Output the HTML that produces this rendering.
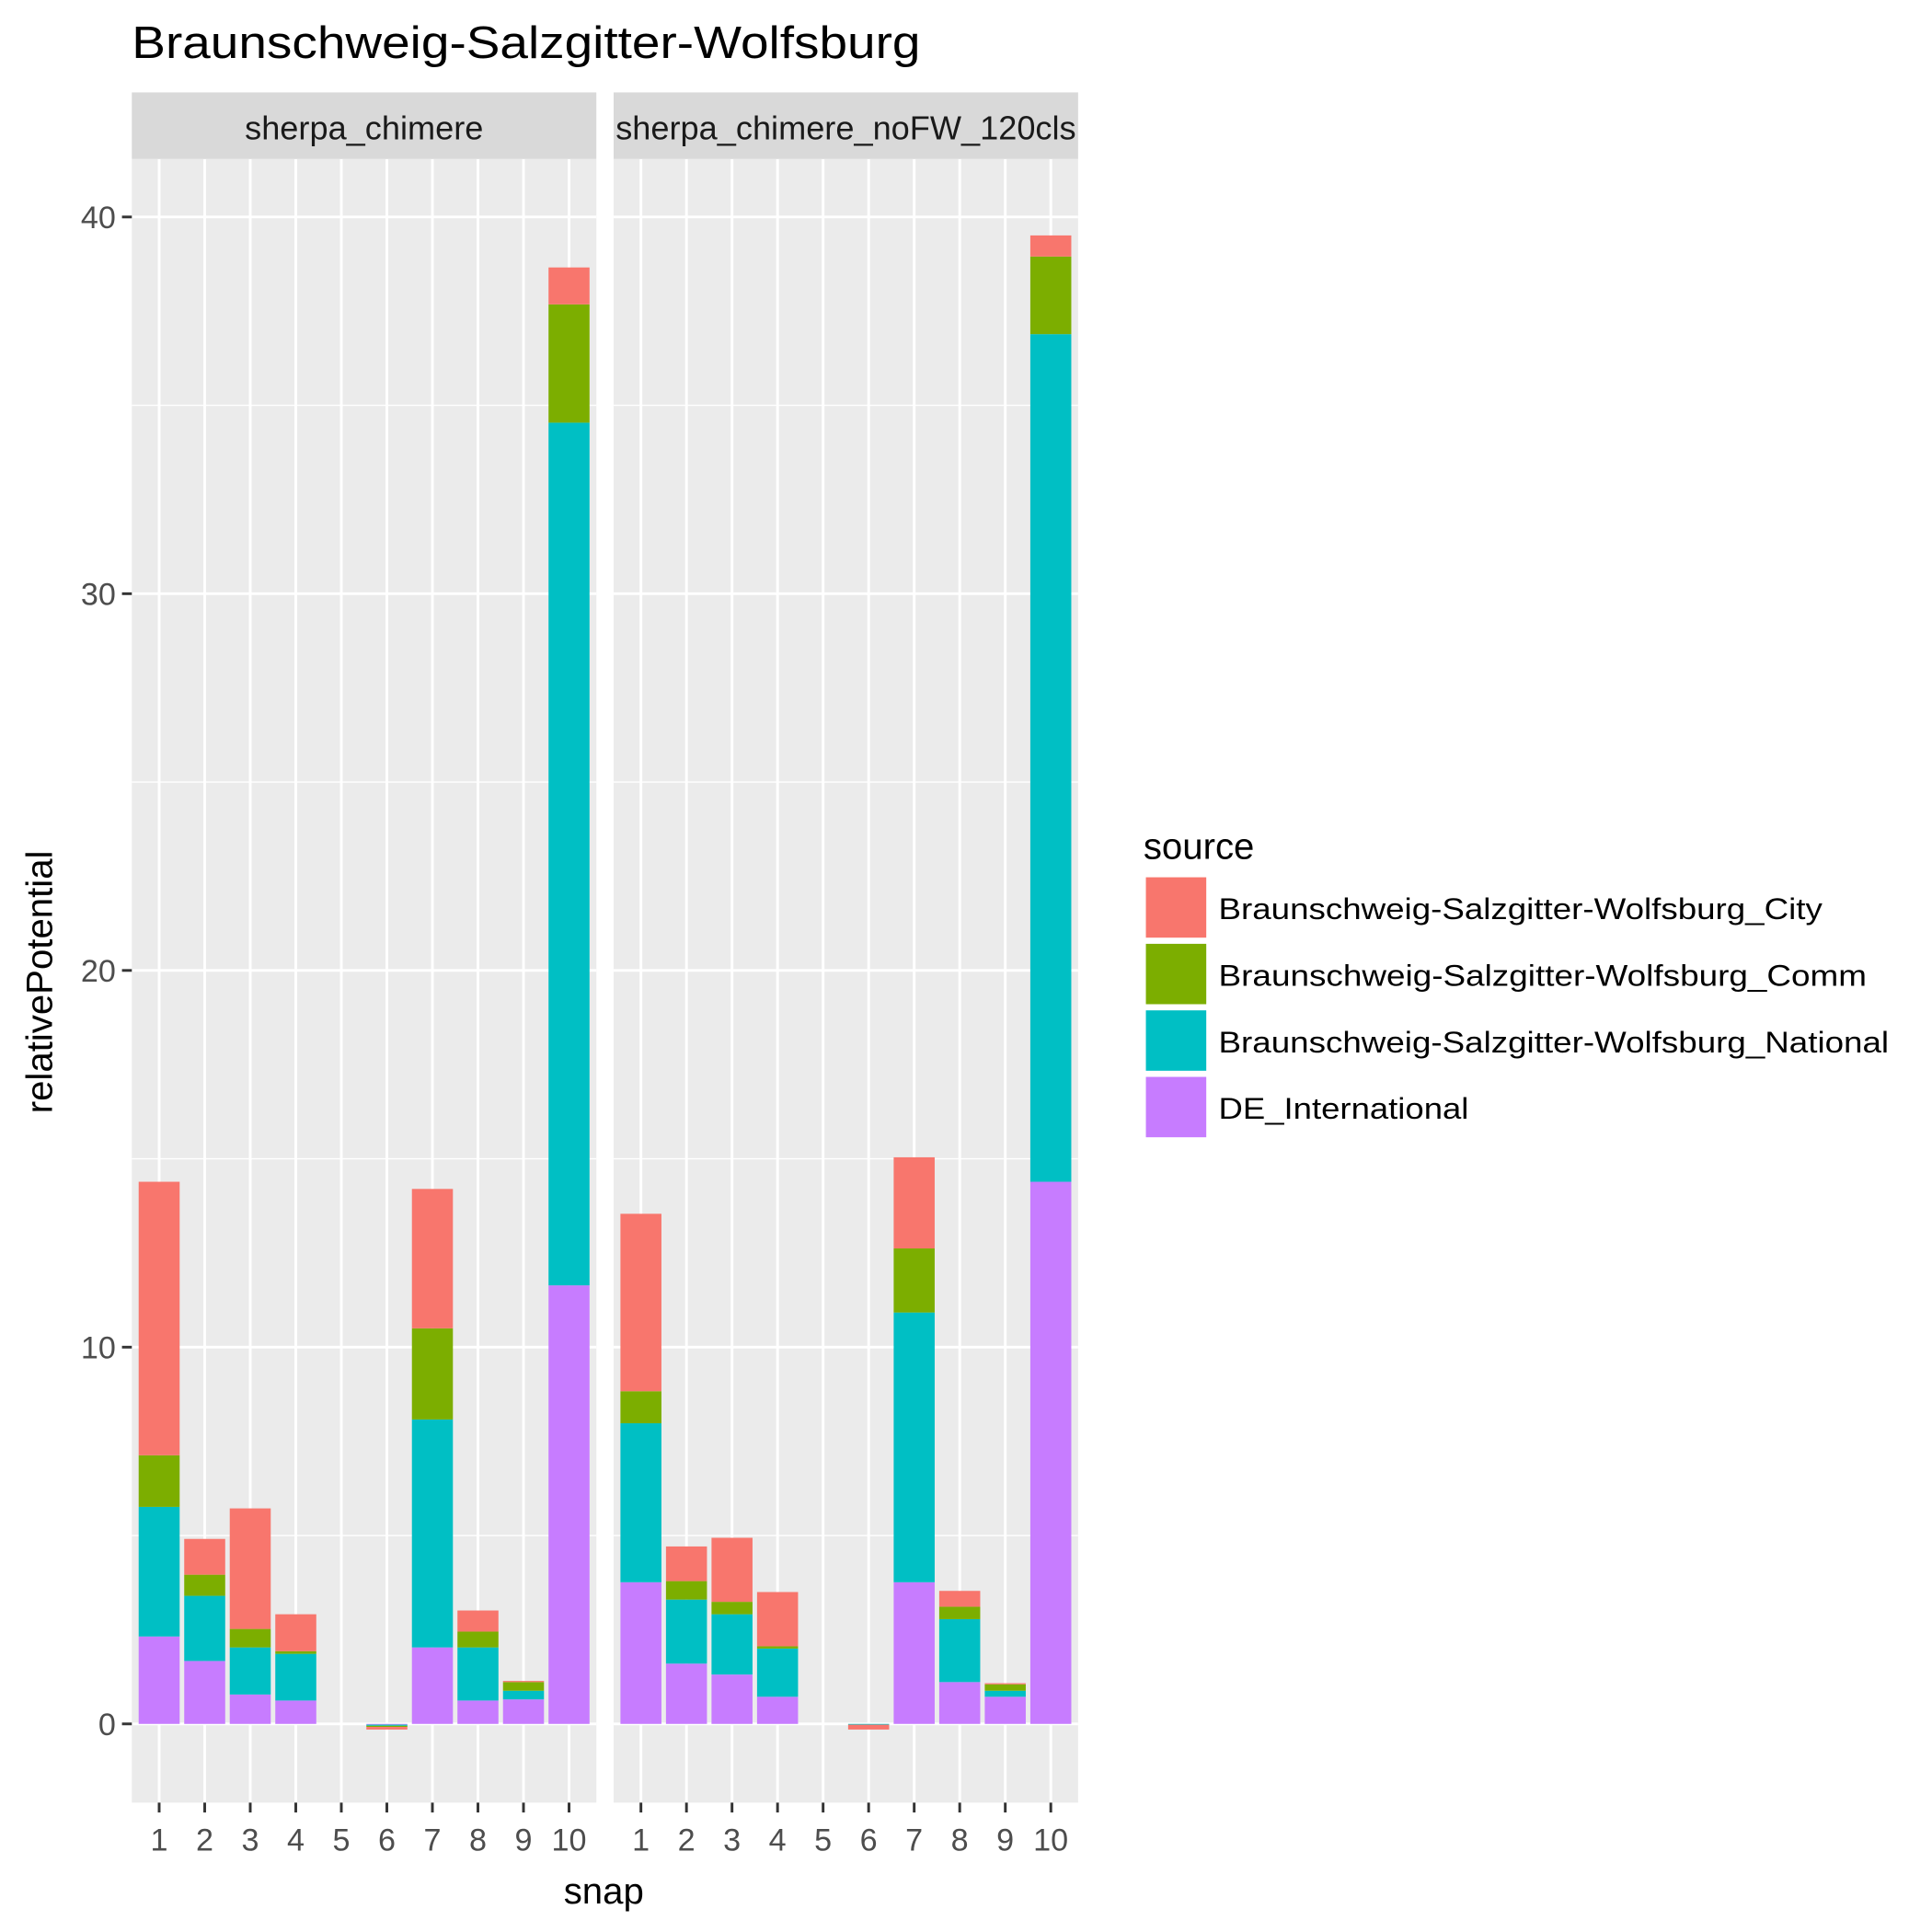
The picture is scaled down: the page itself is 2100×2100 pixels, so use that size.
<!DOCTYPE html>
<html><head><meta charset="utf-8"><style>
html,body{margin:0;padding:0;background:#fff;}
svg{display:block;font-family:"Liberation Sans",Arial,sans-serif;}
</style></head><body>
<svg id="chart" width="2100" height="2100" viewBox="0 0 1568 1568" xmlns="http://www.w3.org/2000/svg">
<rect width="1568" height="1568" fill="#fff"/>
<text x="107" y="47" font-size="37" textLength="640" lengthAdjust="spacingAndGlyphs">Braunschweig-Salzgitter-Wolfsburg</text>
<g id="panels"></g>
<text transform="translate(42,797) rotate(-90)" text-anchor="middle" font-size="30">relativePotential</text>
<text x="490" y="1545" text-anchor="middle" font-size="30">snap</text>
<g id="legend">
<text x="928" y="697" font-size="30">source</text>
</g>
</svg>
<script>
const categories = [1,2,3,4,5,6,7,8,9,10];
const facets = ["sherpa_chimere","sherpa_chimere_noFW_120cls"];
const seriesNames = ["DE_International","Braunschweig-Salzgitter-Wolfsburg_National","Braunschweig-Salzgitter-Wolfsburg_Comm","Braunschweig-Salzgitter-Wolfsburg_City"];
// panel 1 segments (bottom to top)
const p1International = [2.32,1.67,0.78,0.62,0,-0.02,2.03,0.62,0.65,11.64];
const p1National      = [3.44,1.73,1.25,1.24,0,-0.03,6.05,1.41,0.23,22.90];
const p1Comm          = [1.37,0.56,0.49,0.07,0,-0.03,2.42,0.42,0.23,3.14];
const p1City          = [7.26,0.95,3.20,0.98,0,-0.07,3.70,0.56,0.03,0.98];
// panel 2 segments
const p2International = [3.76,1.60,1.31,0.72,0,0,3.76,1.11,0.72,14.39];
const p2National      = [4.22,1.70,1.60,1.28,0,-0.02,7.16,1.67,0.16,22.50];
const p2Comm          = [0.85,0.49,0.33,0.06,0,0,1.70,0.33,0.17,2.06];
const p2City          = [4.71,0.92,1.70,1.44,0,-0.13,2.42,0.42,0.03,0.56];
const yTicks = [0,10,20,30,40];
const yMinor = [5,15,25,35];

const colors = ["#C77CFF","#00BFC4","#7CAE00","#F8766D"];
const NS = "http://www.w3.org/2000/svg";
const panelData = [[p1International,p1National,p1Comm,p1City],[p2International,p2National,p2Comm,p2City]];
const panelX = [107,498], panelW = 377, plotTop = 129, plotBottom = 1463;
const yMin = -2.09, yMax = 41.54;
function yScale(v){ return plotBottom - (v - yMin)/(yMax - yMin)*(plotBottom - plotTop); }
function xScale(p, c){ return panelX[p] + (c - 0.4)/10.2*panelW; }
function mk(tag, attrs, parent){
  const e = document.createElementNS(NS, tag);
  for (const k in attrs) e.setAttribute(k, attrs[k]);
  parent.appendChild(e); return e;
}
const root = document.getElementById("panels");
facets.forEach((f, p) => {
  const g = mk("g", {}, root);
  
  
  const bg = mk("rect", {x:panelX[p], y:plotTop, width:panelW, height:plotBottom-plotTop, fill:"#EBEBEB"}, g);
  
  
  yMinor.forEach(v => { mk("line",{x1:panelX[p],x2:panelX[p]+panelW,y1:yScale(v),y2:yScale(v),stroke:"#fff","stroke-width":1},g); });
  yTicks.forEach(v => { mk("line",{x1:panelX[p],x2:panelX[p]+panelW,y1:yScale(v),y2:yScale(v),stroke:"#fff","stroke-width":2.2},g); });
  categories.forEach(c => { mk("line",{x1:xScale(p,c),x2:xScale(p,c),y1:plotTop,y2:plotBottom,stroke:"#fff","stroke-width":2.2},g); });
  const strip = mk("rect",{x:panelX[p], y:75, width:panelW, height:54, fill:"#D9D9D9"}, g);
  
  
  const clip = mk("clipPath",{id:"clip"+p}, g);
  mk("rect",{x:panelX[p], y:75, width:panelW, height:54}, clip);
  const st = mk("text",{x:panelX[p]+panelW/2, y:113, "text-anchor":"middle", "font-size":27, fill:"#1A1A1A", "clip-path":"url(#clip"+p+")"}, g);
  st.textContent = f;
  
  
  categories.forEach((c, i) => {
    let pos = 0, neg = 0;
    panelData[p].forEach((arr, s) => {
      const v = arr[i]; if (v === 0) return;
      let y0, y1;
      if (v > 0){ y0 = pos; y1 = pos + v; pos = y1; } else { y0 = neg; y1 = neg + v; neg = y1; }
      const w = 0.9*panelW/10.2;
      const r = mk("rect",{x:xScale(p,c)-w/2, y:yScale(Math.max(y0,y1)), width:w, height:Math.abs(yScale(y0)-yScale(y1)), fill:colors[s]}, g);
      
      
    });
  });
  categories.forEach(c => {
    mk("line",{x1:xScale(p,c),x2:xScale(p,c),y1:plotBottom,y2:plotBottom+8,stroke:"#333","stroke-width":2.2},g);
    const t = mk("text",{x:xScale(p,c), y:1502, "text-anchor":"middle", "font-size":25.5, fill:"#4D4D4D"}, g);
    t.textContent = c;
    
    
  });
});
yTicks.forEach(v => {
  mk("line",{x1:99,x2:107,y1:yScale(v),y2:yScale(v),stroke:"#333","stroke-width":2.2},root);
  const t = mk("text",{x:94, y:yScale(v)+9, "text-anchor":"end", "font-size":25.5, fill:"#4D4D4D"}, root);
  t.textContent = v;
  
  
});
const leg = document.getElementById("legend");
const legendOrder = [3,2,1,0];
const legendW = [490, 526, 544, 203];
legendOrder.forEach((s, k) => {
  const y = 712 + k*54;
  const r = mk("rect",{x:930, y:y, width:49, height:49, fill:colors[s]}, leg);
  
  
  const t = mk("text",{x:989, y:y+34, "font-size":24.5, textLength:legendW[k], lengthAdjust:"spacingAndGlyphs"}, leg);
  t.textContent = seriesNames[s];
  
  
});
</script>
</body></html>
